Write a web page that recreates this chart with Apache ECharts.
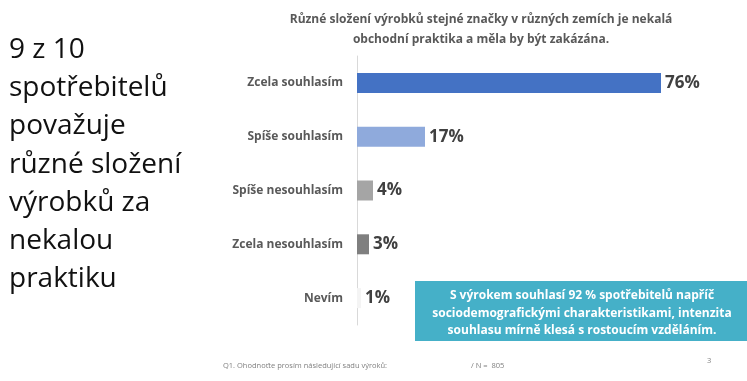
<!DOCTYPE html>
<html>
<head>
<meta charset="utf-8">
<script src="https://cdn.jsdelivr.net/npm/echarts@6/dist/echarts.min.js"></script>
<style>
  html, body { margin: 0; padding: 0; background: #fff; }
  #chart { width: 747px; height: 381px; }
</style>
</head>
<body>
<div id="chart"></div>
<script>
// Answer categories (top to bottom) and their shares in percent
const categories = ['Zcela souhlasím', 'Spíše souhlasím', 'Spíše nesouhlasím', 'Zcela nesouhlasím', 'Nevím'];
const shares = [76, 17, 4, 3, 1];
const barColors = ['#4472C4', '#8FAADC', '#A5A5A5', '#7F7F7F', '#F4F4F4'];

const chartTitle = 'Různé složení výrobků stejné značky v různých zemích je nekalá\nobchodní praktika a měla by být zakázána.';
const headlineLines = ['9 z 10', 'spotřebitelů', 'považuje', 'různé složení', 'výrobků za', 'nekalou', 'praktiku'];
const noteLines = [
  'S výrokem souhlasí 92 % spotřebitelů napříč',
  'sociodemografickými charakteristikami, intenzita',
  'souhlasu mírně klesá s rostoucím vzděláním.'
];
const footerQuestion = 'Q1. Ohodnoťte prosím následující sadu výroků:';
const footerSample = '/ N =  805';
const pageNumber = '3';

const FONT = '"Open Sans", "Noto Sans", sans-serif';
const chart = echarts.init(document.getElementById('chart'), null, { renderer: 'canvas' });

const graphics = [];
// big headline on the left
headlineLines.forEach((line, i) => {
  graphics.push({
    type: 'text', left: 9, top: 36 + i * 38.2,
    style: { text: line, font: '28px ' + FONT, fill: '#111111' }
  });
});
// teal note box
graphics.push({
  type: 'rect', shape: { x: 415, y: 281, width: 332, height: 60 },
  style: { fill: '#45B0C8' }
});
noteLines.forEach((line, i) => {
  graphics.push({
    type: 'text', x: 582, y: 296 + i * 17.5,
    style: { text: line, font: 'bold 12px ' + FONT, fill: '#ffffff', align: 'center', verticalAlign: 'middle' }
  });
});
// footer
graphics.push({
  type: 'text', x: 223, y: 366,
  style: { text: footerQuestion, font: '7.5px ' + FONT, fill: '#808080', verticalAlign: 'middle' }
});
graphics.push({
  type: 'text', x: 471, y: 366,
  style: { text: footerSample, font: '7.5px ' + FONT, fill: '#808080', verticalAlign: 'middle' }
});
graphics.push({
  type: 'text', x: 707, y: 361,
  style: { text: pageNumber, font: '7.5px ' + FONT, fill: '#808080', verticalAlign: 'middle' }
});

chart.setOption({
  animation: false,
  backgroundColor: '#ffffff',
  title: {
    text: chartTitle,
    left: 476, top: 5,
    textAlign: 'center',
    textStyle: { fontFamily: FONT, fontWeight: 'bold', fontSize: 12, color: '#595959', lineHeight: 20 }
  },
  grid: { left: 357, right: 0, top: 56, height: 269 },
  xAxis: {
    type: 'value', min: 0, max: 97.5,
    show: false
  },
  yAxis: {
    type: 'category',
    data: categories,
    inverse: true,
    axisLine: { show: true, lineStyle: { color: '#D9D9D9', width: 1 } },
    axisTick: { show: false },
    axisLabel: {
      margin: 14,
      fontFamily: FONT, fontWeight: 'bold', fontSize: 12, color: '#595959'
    }
  },
  series: [{
    type: 'bar',
    barWidth: 20,
    data: shares.map((v, i) => ({ value: v, itemStyle: { color: barColors[i] } })),
    label: {
      show: true, position: 'right', distance: 4,
      formatter: p => p.value + '%',
      fontFamily: FONT, fontWeight: 'bold', fontSize: 17, color: '#404040'
    }
  }],
  graphic: graphics
});
</script>
</body>
</html>
